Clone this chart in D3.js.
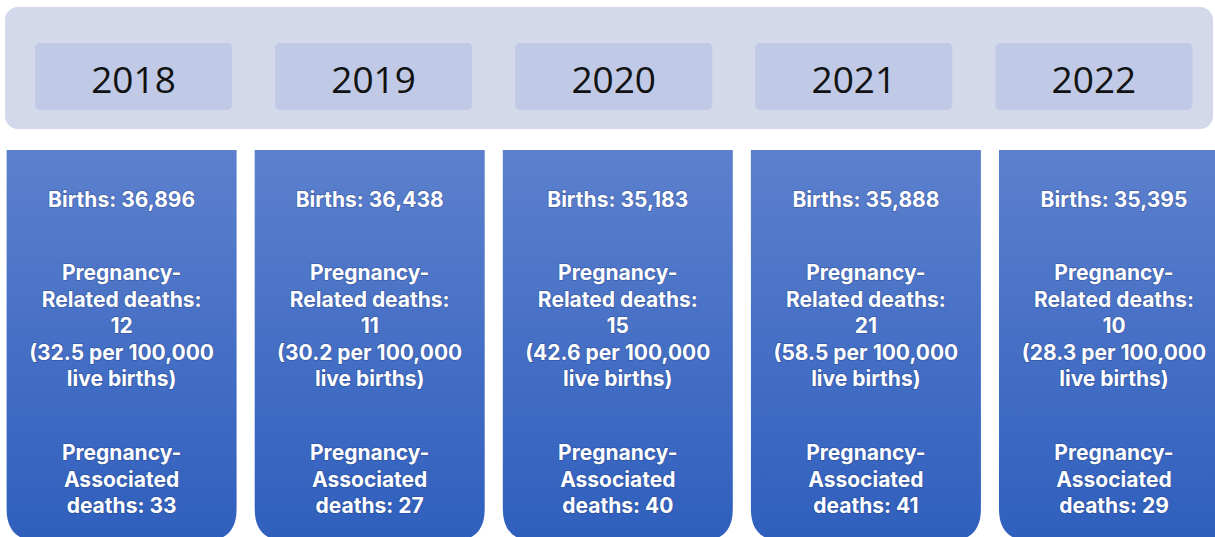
<!DOCTYPE html>
<html>
<head>
<meta charset="utf-8">
<script src="https://cdn.jsdelivr.net/npm/d3@7"></script>
<style>
  html, body { margin: 0; padding: 0; background: #ffffff; overflow: hidden; }
  .year-label { font-family: "Open Sans", sans-serif; font-size: 37px; fill: #111111; }
  .stat-label { font-family: Inter, Roboto, sans-serif; font-weight: 700; font-size: 21px; fill: #ffffff; }
</style>
</head>
<body>
<div id="chart"></div>
<script>
const years = ["2018", "2019", "2020", "2021", "2022"];
const births = ["36,896", "36,438", "35,183", "35,888", "35,395"];
const relatedDeaths = [12, 11, 15, 21, 10];
const relatedRates = ["32.5", "30.2", "42.6", "58.5", "28.3"];
const associatedDeaths = [33, 27, 40, 41, 29];

const width = 1215;
const height = 537;

const svg = d3.select("#chart")
    .append("svg")
    .attr("width", width)
    .attr("height", height);

// Gradient used by the five columns
const grad = svg.append("defs")
    .append("linearGradient")
    .attr("id", "colGrad")
    .attr("x1", 0).attr("y1", 0).attr("x2", 0).attr("y2", 1);
grad.append("stop").attr("offset", "0%").attr("stop-color", "#5c80cd");
grad.append("stop").attr("offset", "100%").attr("stop-color", "#2f5fbd");

// Scale for the columns and one for the year boxes (they are not quite aligned)
const colX = d3.scaleBand()
    .domain(years)
    .range([6.6, 6.6 + 4 * 248.1 + 230])
    .paddingInner(18.1 / 248.1)
    .paddingOuter(0);

const yearX = d3.scaleBand()
    .domain(years)
    .range([35, 35 + 4 * 240.1 + 197])
    .paddingInner(43.1 / 240.1)
    .paddingOuter(0);

// Top band
svg.append("rect")
    .attr("x", 5)
    .attr("y", 7)
    .attr("width", 1208)
    .attr("height", 122)
    .attr("rx", 13)
    .attr("fill", "#d3d8eb");

// Year boxes
const yearG = svg.append("g").selectAll("g").data(years).enter().append("g");
yearG.append("rect")
    .attr("x", d => yearX(d))
    .attr("y", 43)
    .attr("width", yearX.bandwidth())
    .attr("height", 67)
    .attr("rx", 5)
    .attr("fill", "#c0c9e5");
yearG.append("text")
    .classed("year-label", true)
    .attr("x", d => yearX(d) + yearX.bandwidth() / 2)
    .attr("y", 78)
    .attr("text-anchor", "middle")
    .attr("dominant-baseline", "central")
    .text(d => d);

// Columns: square top, rounded bottom
const colTop = 150, colBottom = 541, r = 32;
function colPath(x, w) {
    return `M${x},${colTop}H${x + w}V${colBottom - r}Q${x + w},${colBottom} ${x + w - r},${colBottom}` +
        `H${x + r}Q${x},${colBottom} ${x},${colBottom - r}Z`;
}

const cols = svg.append("g").selectAll("g").data(years).enter().append("g");
cols.append("path")
    .attr("d", d => colPath(colX(d), colX.bandwidth()))
    .attr("fill", "url(#colGrad)");

// Text lines inside each column
function linesFor(i) {
    return [
        { t: `Births: ${births[i]}`, y: 199 },
        { t: "Pregnancy-", y: 272 },
        { t: "Related deaths:", y: 299 },
        { t: `${relatedDeaths[i]}`, y: 325 },
        { t: `(${relatedRates[i]} per 100,000`, y: 352 },
        { t: "live births)", y: 378 },
        { t: "Pregnancy-", y: 452 },
        { t: "Associated", y: 479 },
        { t: `deaths: ${associatedDeaths[i]}`, y: 505 }
    ];
}

cols.each(function (d, i) {
    const cx = colX(d) + colX.bandwidth() / 2;
    d3.select(this).selectAll("text.stat-label")
        .data(linesFor(i))
        .enter()
        .append("text")
        .classed("stat-label", true)
        .attr("x", cx)
        .attr("y", l => l.y)
        .attr("text-anchor", "middle")
        .attr("dominant-baseline", "central")
        .style("paint-order", "stroke")
        .style("stroke", "rgba(30,50,110,0.35)")
        .style("stroke-width", "1.5px")
        .text(l => l.t);
});
</script>
</body>
</html>
